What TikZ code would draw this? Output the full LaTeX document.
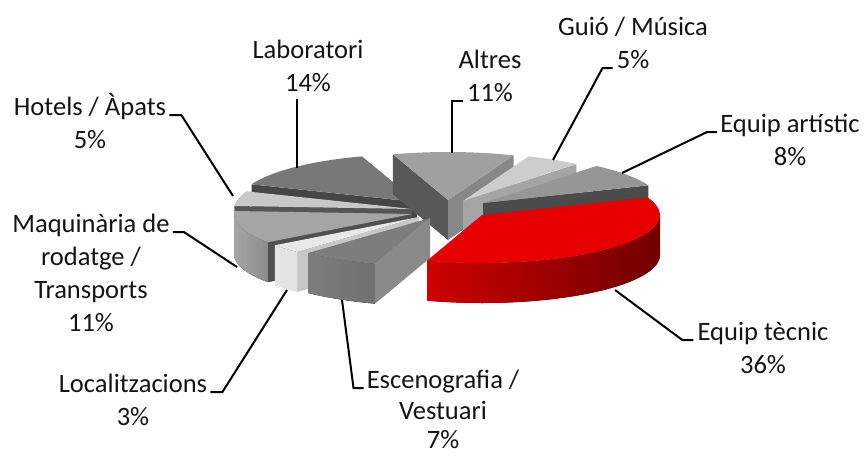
\documentclass[tikz,border=0pt]{standalone}
\usepackage{fontspec}
\setmainfont{Carlito}
\usetikzlibrary{calc}

\tikzset{
  lbl/.style={inner sep=0pt, anchor=base, font=\fontsize{19.9}{24}\selectfont, text={rgb, 255:red, 20; green, 20; blue, 20 }},
  leader/.style={line width=1.5pt, draw={rgb, 255:red, 0; green, 0; blue, 0 }},
}

\begin{document}
\begin{tikzpicture}[x=0.75pt,y=0.75pt,yscale=-1,xscale=1]
\useasboundingbox (0,0) rectangle (867,457);

%Slice tips (top face)
\coordinate (tLab) at (417,202);
\coordinate (tAlt) at (448,200);
\coordinate (tGuio) at (463,201);
\coordinate (tArt) at (483,203);
\coordinate (tHot) at (412,209);
\coordinate (tMaq) at (412,214);
\coordinate (tLoc) at (419,217);
\coordinate (tEsc) at (430,218);
\coordinate (tTec) at (482,215);

%Slice: Laboratori -- wall
\fill [fill={rgb, 255:red, 70; green, 70; blue, 70 }] (tLab) -- ++({178*cos(158.4)},{-48*sin(158.4)}) -- ++(0,40) -- ($(tLab)+(0,40)$) -- cycle;
%Slice: Laboratori -- top
\fill [fill={rgb, 255:red, 120; green, 120; blue, 120 }] (tLab) -- ++({178*cos(108)},{-48*sin(108)}) arc[start angle=-108, end angle=-158.4, x radius=178, y radius=48] -- cycle;

%Slice: Altres -- left wall
\fill [fill={rgb, 255:red, 88; green, 88; blue, 88 }] (tAlt) -- ++({178*cos(108)},{-48*sin(108)}) -- ++(0,40) -- ($(tAlt)+(0,40)$) -- cycle;
%Slice: Altres -- right wall
\fill [fill={rgb, 255:red, 135; green, 135; blue, 135 }] (tAlt) -- ++({178*cos(68.4)},{-48*sin(68.4)}) -- ++(0,40) -- ($(tAlt)+(0,40)$) -- cycle;
%Slice: Altres -- top
\fill [fill={rgb, 255:red, 160; green, 160; blue, 160 }] (tAlt) -- ++({178*cos(68.4)},{-48*sin(68.4)}) arc[start angle=-68.4, end angle=-108, x radius=178, y radius=48] -- cycle;

%Slice: Guio -- wall
\fill [fill={rgb, 255:red, 165; green, 165; blue, 165 }] (tGuio) -- ++({178*cos(50.4)},{-48*sin(50.4)}) -- ++(0,40) -- ($(tGuio)+(0,40)$) -- cycle;
%Slice: Guio -- top
\fill [fill={rgb, 255:red, 205; green, 205; blue, 205 }] (tGuio) -- ++({178*cos(50.4)},{-48*sin(50.4)}) arc[start angle=-50.4, end angle=-68.4, x radius=178, y radius=48] -- cycle;

%Slice: Equip artistic -- wall
\fill [fill={rgb, 255:red, 75; green, 75; blue, 75 }] (tArt) -- ++({178*cos(21.6)},{-48*sin(21.6)}) -- ++(0,40) -- ($(tArt)+(0,40)$) -- cycle;
%Slice: Equip artistic -- top
\fill [fill={rgb, 255:red, 150; green, 150; blue, 150 }] (tArt) -- ++({178*cos(21.6)},{-48*sin(21.6)}) arc[start angle=-21.6, end angle=-50.4, x radius=178, y radius=48] -- cycle;

%Slice: Hotels -- wall
\fill [fill={rgb, 255:red, 85; green, 85; blue, 85 }] (tHot) -- ++({178*cos(176.4)},{-48*sin(176.4)}) -- ++(0,40) -- ($(tHot)+(0,40)$) -- cycle;
%Slice: Hotels -- top
\fill [fill={rgb, 255:red, 200; green, 200; blue, 200 }] (tHot) -- ++({178*cos(158.4)},{-48*sin(158.4)}) arc[start angle=-158.4, end angle=-176.4, x radius=178, y radius=48] -- cycle;

%Slice: Maquinaria -- end wall
\fill [fill={rgb, 255:red, 80; green, 80; blue, 80 }] (tMaq) -- ++({178*cos(216)},{-48*sin(216)}) -- ++(0,40) -- ($(tMaq)+(0,40)$) -- cycle;
%Slice: Maquinaria -- front
\fill [left color={rgb, 255:red, 165; green, 165; blue, 165 }, right color={rgb, 255:red, 140; green, 140; blue, 140 }] ($(tMaq)+(-178,0)$) arc[start angle=-180, end angle=-216, x radius=178, y radius=48] -- ++(0,40) arc[start angle=-216, end angle=-180, x radius=178, y radius=48] -- cycle;
%Slice: Maquinaria -- top
\fill [fill={rgb, 255:red, 165; green, 165; blue, 165 }] (tMaq) -- ++({178*cos(176.4)},{-48*sin(176.4)}) arc[start angle=-176.4, end angle=-216, x radius=178, y radius=48] -- cycle;

%Slice: Localitzacions -- end wall
\fill [fill={rgb, 255:red, 200; green, 200; blue, 200 }] (tLoc) -- ++({178*cos(226.8)},{-48*sin(226.8)}) -- ++(0,40) -- ($(tLoc)+(0,40)$) -- cycle;
%Slice: Localitzacions -- front
\fill [fill={rgb, 255:red, 228; green, 228; blue, 228 }] ($(tLoc)+({178*cos(216)},{-48*sin(216)})$) arc[start angle=-216, end angle=-226.8, x radius=178, y radius=48] -- ++(0,40) arc[start angle=-226.8, end angle=-216, x radius=178, y radius=48] -- cycle;
%Slice: Localitzacions -- top
\fill [fill={rgb, 255:red, 232; green, 232; blue, 232 }] (tLoc) -- ++({178*cos(216)},{-48*sin(216)}) arc[start angle=-216, end angle=-226.8, x radius=178, y radius=48] -- cycle;

%Slice: Escenografia -- end wall
\fill [fill={rgb, 255:red, 138; green, 138; blue, 138 }] (tEsc) -- ++({178*cos(252)},{-48*sin(252)}) -- ++(0,40) -- ($(tEsc)+(0,40)$) -- cycle;
%Slice: Escenografia -- front
\fill [left color={rgb, 255:red, 125; green, 125; blue, 125 }, right color={rgb, 255:red, 112; green, 112; blue, 112 }] ($(tEsc)+({178*cos(226.8)},{-48*sin(226.8)})$) arc[start angle=-226.8, end angle=-252, x radius=178, y radius=48] -- ++(0,40) arc[start angle=-252, end angle=-226.8, x radius=178, y radius=48] -- cycle;
%Slice: Escenografia -- top
\fill [fill={rgb, 255:red, 125; green, 125; blue, 125 }] (tEsc) -- ++({178*cos(226.8)},{-48*sin(226.8)}) arc[start angle=-226.8, end angle=-252, x radius=178, y radius=48] -- cycle;

%Slice: Equip tecnic -- front
\fill [left color={rgb, 255:red, 205; green, 0; blue, 0 }, middle color={rgb, 255:red, 125; green, 0; blue, 0 }, right color={rgb, 255:red, 112; green, 0; blue, 0 }] ($(tTec)+({178*cos(-108)},{-48*sin(-108)})$) arc[start angle=108, end angle=0, x radius=178, y radius=48] -- ++(0,40) arc[start angle=0, end angle=108, x radius=178, y radius=48] -- cycle;
%Slice: Equip tecnic -- top
\fill [fill={rgb, 255:red, 230; green, 0; blue, 0 }] (tTec) -- ++({178*cos(-108)},{-48*sin(-108)}) arc[start angle=108, end angle=-21.6, x radius=178, y radius=48] -- cycle;

% Text Node
\node [lbl] (lLab) at (308,58) {Laboratori};
\node [lbl] (lLabP) at (308,91) {14\%};
\node [lbl] (lAlt) at (490,68) {Altres};
\node [lbl] (lAltP) at (490,101) {11\%};
\node [lbl] (lGuio) at (633,35) {Guió / Música};
\node [lbl] (lGuioP) at (633,68) {5\%};
\node [lbl] (lArt) at (790,132) {Equip artístic};
\node [lbl] (lArtP) at (790,165) {8\%};
\node [lbl] (lHot) at (90,115) {Hotels / Àpats};
\node [lbl] (lHotP) at (90,148) {5\%};
\node [lbl] (lMaq) at (91,232) {Maquinària de};
\node [lbl] (lMaq2) at (91,265) {rodatge /};
\node [lbl] (lMaq3) at (91,298) {Transports};
\node [lbl] (lMaqP) at (91,331) {11\%};
\node [lbl] (lLoc) at (133,392) {Localitzacions};
\node [lbl] (lLocP) at (133,425) {3\%};
\node [lbl] (lEsc) at (443,388) {Escenografia /};
\node [lbl] (lEsc2) at (443,419) {Vestuari};
\node [lbl] (lEscP) at (443,448) {7\%};
\node [lbl] (lTec) at (763,340) {Equip tècnic};
\node [lbl] (lTecP) at (763,373) {36\%};

%Leader ends on the slices
\coordinate (pLab) at (297,168);
\coordinate (pAlt) at (452,153);
\coordinate (pGuio) at (553,160);
\coordinate (pArt) at (622,173);
\coordinate (pTec) at (615,290);
\coordinate (pEsc) at (342,300);
\coordinate (pLoc) at (287,290);
\coordinate (pMaq) at (237,267);
\coordinate (pHot) at (233,196);

%Leader lines
\draw [leader] (pLab) -- ($(pLab |- lLabP.south)+(0,8)$);
\draw [leader] (pAlt) |- ($(lAltP.base west)+(-4,0)$);
\draw [leader] ($(lGuioP.base west)+(-4,0)$) -- ++(-10,0) -- (pGuio);
\draw [leader] ($(lArt.base west)+(-3,0)$) -- ++(-10,0) -- (pArt);
\draw [leader] ($(lTec.base west)+(-4,0)$) -- ++(-11,0) -- (pTec);
\draw [leader] ($(lEsc.base west)+(-3,0)$) -- ++(-10,0) -- (pEsc);
\draw [leader] ($(lLoc.base east)+(3,0)$) -- ++(12,0) -- (pLoc);
\draw [leader] ($(lMaq.base east)+(3,0)$) -- ++(11,0) -- (pMaq);
\draw [leader] ($(lHot.base east)+(3,0)$) -- ++(12,0) -- (pHot);

\end{tikzpicture}
\end{document}
